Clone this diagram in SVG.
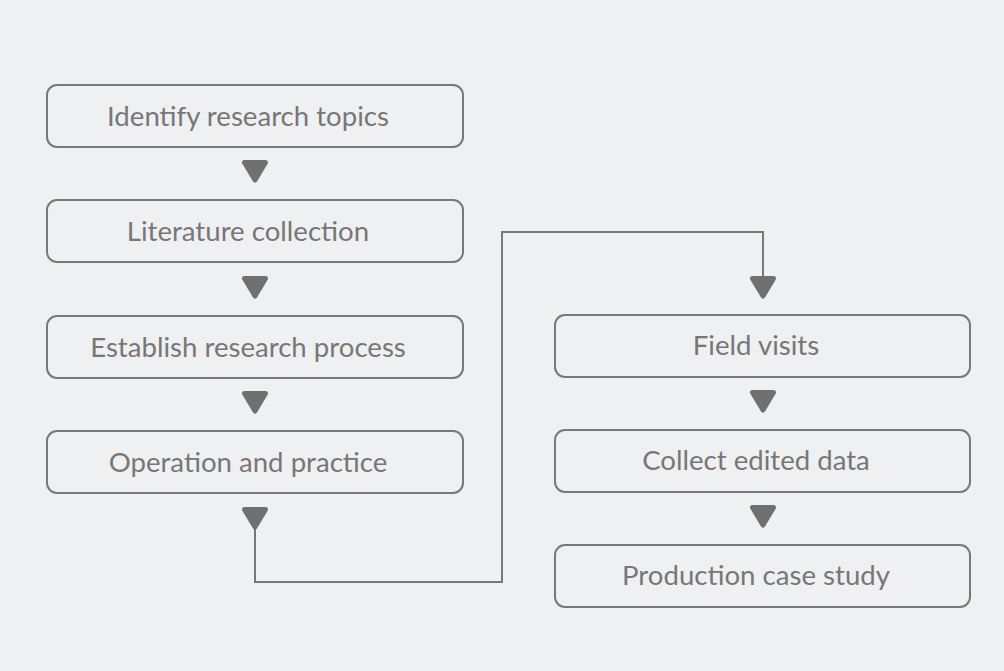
<svg xmlns="http://www.w3.org/2000/svg" width="1004" height="671" viewBox="0 0 1004 671">
<style>
.box{fill:#eff0f1;stroke:#787878;stroke-width:2}
.lbl{font-family:Lato,"Noto Sans",sans-serif;font-size:27.6px;fill:#777;text-anchor:middle}
.line{fill:none;stroke:#787878;stroke-width:2}
.tri{fill:#707070;stroke:#707070;stroke-width:5;stroke-linejoin:round}
</style>
<defs>
<path id="tri" d="M-10.5 -8.5 L10.5 -8.5 L0 9 Z"/>
</defs>
<rect width="1004" height="671" fill="#eff0f1"/>
<g id="connectors">
<path class="line" d="M255 525 V582 H502 V232 H763 V280"/>
<use href="#tri" class="tri" x="255" y="171"/>
<use href="#tri" class="tri" x="255" y="287"/>
<use href="#tri" class="tri" x="255" y="402"/>
<use href="#tri" class="tri" x="255" y="518"/>
<use href="#tri" class="tri" x="763" y="287"/>
<use href="#tri" class="tri" x="763" y="401"/>
<use href="#tri" class="tri" x="763" y="516"/>
</g>
<g id="n1"><rect class="box" x="47" y="85" width="416" height="62" rx="10"/><text class="lbl" x="248" y="126">Identify research topics</text></g>
<g id="n2"><rect class="box" x="47" y="200" width="416" height="62" rx="10"/><text class="lbl" x="248" y="241">Literature collection</text></g>
<g id="n3"><rect class="box" x="47" y="316" width="416" height="62" rx="10"/><text class="lbl" x="248" y="357">Establish research process</text></g>
<g id="n4"><rect class="box" x="47" y="431" width="416" height="62" rx="10"/><text class="lbl" x="248" y="472">Operation and practice</text></g>
<g id="n5"><rect class="box" x="555" y="315" width="415" height="62" rx="10"/><text class="lbl" x="756" y="355">Field visits</text></g>
<g id="n6"><rect class="box" x="555" y="430" width="415" height="62" rx="10"/><text class="lbl" x="756" y="470">Collect edited data</text></g>
<g id="n7"><rect class="box" x="555" y="545" width="415" height="62" rx="10"/><text class="lbl" x="756" y="585">Production case study</text></g>
</svg>
